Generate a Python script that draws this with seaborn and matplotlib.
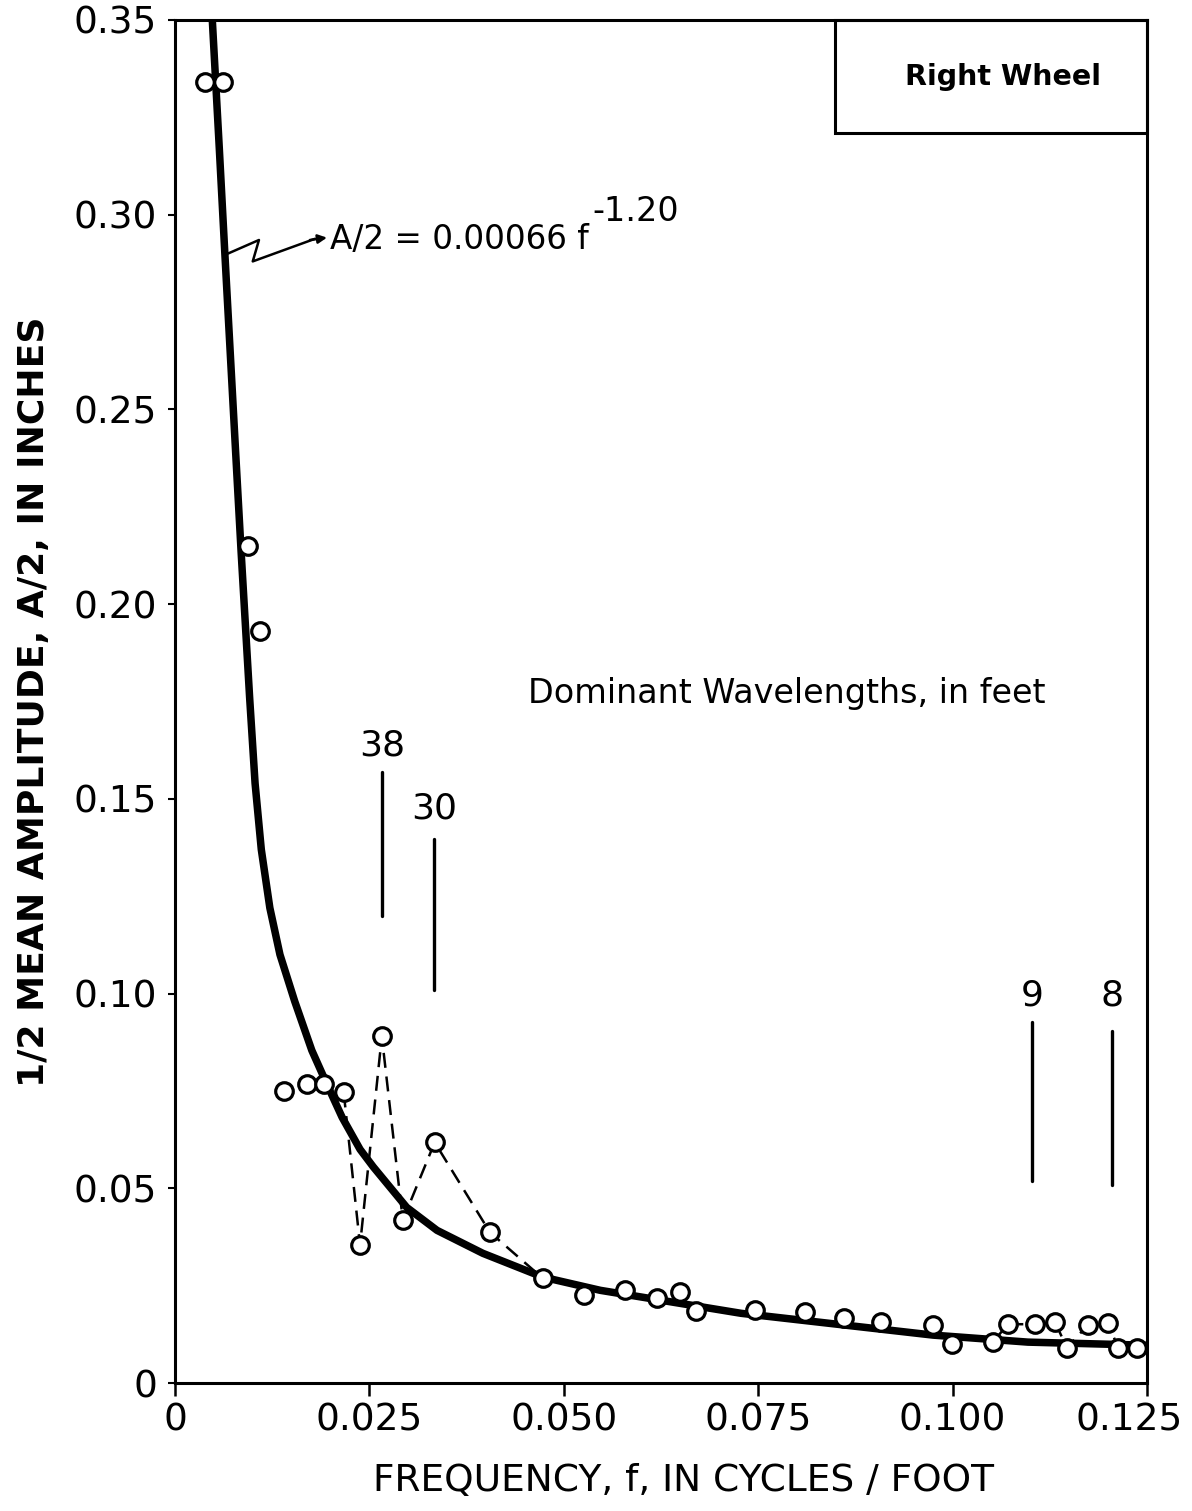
import matplotlib
matplotlib.use("Agg")
import matplotlib.pyplot as plt
import matplotlib.transforms as mtransforms
import seaborn as sns
import pandas as pd
from matplotlib.patches import Rectangle

# ---------------- data ----------------
freq = [0.0039, 0.0062, 0.0094, 0.0109, 0.0140, 0.0170, 0.0192, 0.0217,
        0.0238, 0.0266, 0.0293, 0.0334, 0.0405, 0.0473, 0.0526, 0.0579,
        0.0620, 0.0649, 0.0670, 0.0746, 0.0810, 0.0860, 0.0908, 0.0975,
        0.0999, 0.1052, 0.1071, 0.1106, 0.1132, 0.1147, 0.1174, 0.1200,
        0.1213, 0.1237]
amp = [0.334, 0.334, 0.215, 0.193, 0.0749, 0.0767, 0.0767, 0.0746,
       0.0354, 0.0890, 0.0418, 0.0618, 0.0387, 0.0269, 0.0226, 0.0238,
       0.0218, 0.0233, 0.0185, 0.0187, 0.0182, 0.0167, 0.0156, 0.0149,
       0.0100, 0.0105, 0.0151, 0.0151, 0.0156, 0.0090, 0.0149, 0.0154,
       0.0090, 0.0090]

# fitted curve A/2 = 0.00066 f^-1.20 as drawn in the figure
curve_f = [0.0048, 0.0057, 0.0064, 0.0078, 0.0085, 0.0096, 0.0103, 0.0111,
           0.0122, 0.0135, 0.0154, 0.0176, 0.0195, 0.0215, 0.0238, 0.0255,
           0.0298, 0.0337, 0.0396, 0.0473, 0.0547, 0.0728, 0.0975, 0.1097,
           0.1250]
curve_a = [0.350, 0.317, 0.2905, 0.239, 0.2136, 0.176, 0.154, 0.137,
           0.122, 0.110, 0.098, 0.0854, 0.0769, 0.0682, 0.0600, 0.0555,
           0.0451, 0.0392, 0.0333, 0.0272, 0.0238, 0.0179, 0.0123, 0.0105,
           0.0097]

# dominant wavelengths (feet) and where their markers sit
wave_labels = ["38", "30", "9", "8"]
wave_freq = [0.0266, 0.0333, 0.1102, 0.1205]
wave_top = [0.157, 0.1397, 0.0926, 0.0905]
wave_bottom = [0.120, 0.1008, 0.052, 0.0508]
wave_label_y = [0.1636, 0.1474, 0.0995, 0.0995]

x_ticks = [0, 0.025, 0.050, 0.075, 0.100, 0.125]
x_ticklabels = ["0", "0.025", "0.050", "0.075", "0.100", "0.125"]
y_ticks = [0, 0.05, 0.10, 0.15, 0.20, 0.25, 0.30, 0.35]
y_ticklabels = ["0", "0.05", "0.10", "0.15", "0.20", "0.25", "0.30", "0.35"]

# ---------------- drawing ----------------
sns.set_style("ticks")
plt.rcParams['font.family'] = ['DejaVu Sans']
plt.rcParams['text.color'] = 'black'
plt.rcParams['axes.labelcolor'] = 'black'
plt.rcParams['xtick.color'] = 'black'
plt.rcParams['ytick.color'] = 'black'

fig = plt.figure(figsize=(11.92, 15.11), dpi=100)
ax = fig.add_axes([0.1468, 0.0847, 0.8154, 0.9021])

pts = pd.DataFrame({"f": freq, "a": amp})
crv = pd.DataFrame({"f": curve_f, "a": curve_a})

sns.lineplot(data=crv, x="f", y="a", sort=False, estimator=None,
             color="black", linewidth=5.4, ax=ax, zorder=2)

seg1 = pts.iloc[7:14]
seg2 = pts.iloc[25:33]
for seg in (seg1, seg2):
    sns.lineplot(data=seg, x="f", y="a", sort=False, estimator=None,
                 color="black", linewidth=1.8, linestyle=(0, (6, 3.5)),
                 ax=ax, zorder=2)

sns.scatterplot(data=pts, x="f", y="a", marker="o", s=160,
                facecolor="white", edgecolor="black", linewidth=2.3,
                ax=ax, zorder=4)

# wavelength markers
for lab, fx, top, bot, ly in zip(wave_labels, wave_freq, wave_top,
                                 wave_bottom, wave_label_y):
    ax.plot([fx, fx], [bot, top], color="black", linewidth=2.4)
    ax.text(fx, ly, lab, ha="center", va="center", fontsize=26)

ax.text(0.0787, 0.177, "Dominant Wavelengths, in feet", ha="center",
        va="center", fontsize=24)

# equation with squiggle leader
ax.plot([0.0068, 0.0108, 0.0100, 0.0180], [0.290, 0.2935, 0.2880, 0.2938],
        color="black", linewidth=1.8, solid_joinstyle="round")
ax.annotate("", xy=(0.0199, 0.2942), xytext=(0.0170, 0.2934),
            arrowprops=dict(arrowstyle="-|>", color="black", lw=1.8,
                            mutation_scale=13))
eq = ax.text(0.0200, 0.2935, "A/2 = 0.00066 f", ha="left", va="center",
             fontsize=23.5)
ax.annotate("-1.20", xy=(1.0, 0.85), xycoords=eq, xytext=(2, 0),
            textcoords="offset points", ha="left", va="bottom", fontsize=24)

# Right Wheel box
ax.add_patch(Rectangle((0.679, 0.917), 0.321, 0.083, transform=ax.transAxes,
                       fill=False, edgecolor="black", linewidth=2.2,
                       clip_on=False, zorder=5))
ax.text(0.852, 0.9585, "Right Wheel", transform=ax.transAxes,
        ha="center", va="center", fontsize=20.5, fontweight="bold")

ax.set_xlim(0, 0.125)
ax.set_ylim(0, 0.35)
ax.set_xticks(x_ticks)
ax.set_xticklabels(x_ticklabels)
ax.set_yticks(y_ticks)
ax.set_yticklabels(y_ticklabels)
ax.tick_params(axis="x", direction="out", length=9, width=1.8,
               labelsize=27, pad=5)
ax.tick_params(axis="y", direction="out", length=5, width=1.5,
               labelsize=27, pad=8)
# keep the last x label inside the figure as in the original
last = ax.get_xticklabels()[-1]
last.set_transform(last.get_transform() +
                   mtransforms.ScaledTranslation(-18 / 100, 0,
                                                 fig.dpi_scale_trans))
for sp in ax.spines.values():
    sp.set_visible(True)
    sp.set_linewidth(2.2)
    sp.set_color("black")

ax.set_xlabel("FREQUENCY, f, IN CYCLES / FOOT", fontsize=27, labelpad=18)
ax.xaxis.label.set_x(0.523)
ax.set_ylabel("1/2 MEAN AMPLITUDE, A/2, IN INCHES", fontsize=26,
              fontweight="bold", labelpad=16)

fig.savefig("out.png", dpi=100)
